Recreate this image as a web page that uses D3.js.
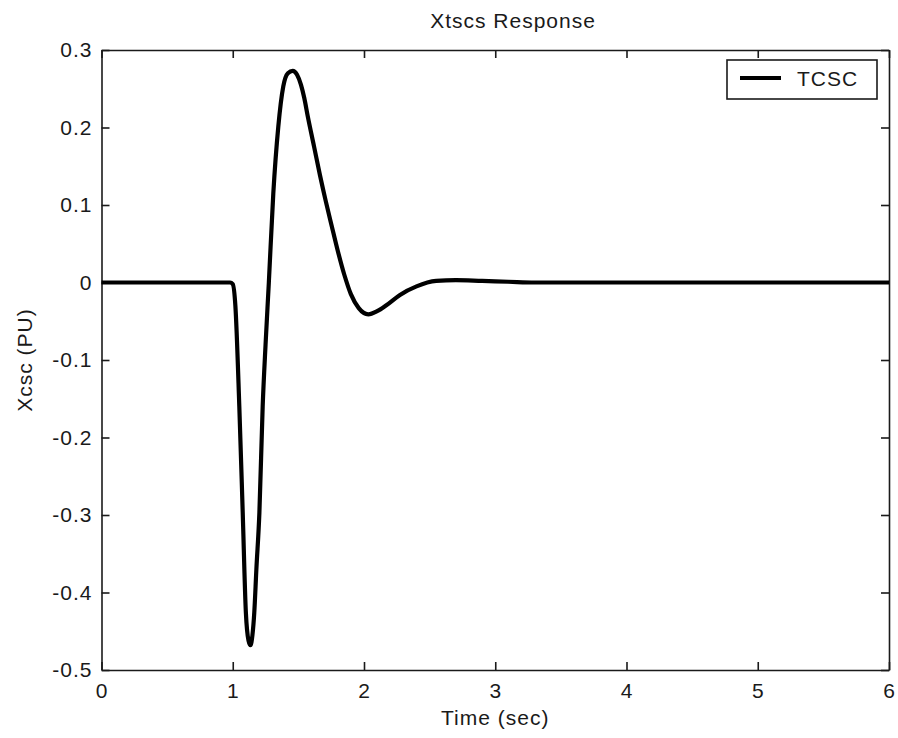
<!DOCTYPE html>
<html>
<head>
<meta charset="utf-8">
<script src="https://cdn.jsdelivr.net/npm/d3@7"></script>
<style>
  html, body { margin: 0; padding: 0; background: #fff; }
  svg { display: block; }
  text { font-family: "Liberation Sans", Arial, sans-serif; fill: #1a1a1a; letter-spacing: 1px; }
</style>
</head>
<body>
<svg id="chart" width="898" height="738"></svg>
<script>
// ---- data ----
const timeValues = [0, 0.5, 0.98, 1.0, 1.02, 1.05, 1.076, 1.10, 1.12, 1.135, 1.15, 1.164, 1.18, 1.203, 1.228, 1.25, 1.275, 1.309, 1.347, 1.385, 1.42, 1.457, 1.49, 1.52, 1.545, 1.572, 1.62, 1.665, 1.71, 1.754, 1.80, 1.85, 1.90, 1.96, 2.033, 2.10, 2.173, 2.274, 2.40, 2.55, 2.70, 2.90, 3.10, 3.30, 4.0, 5.0, 6.0];
const xcscValues = [0, 0, 0, -0.002, -0.03, -0.16, -0.297, -0.426, -0.462, -0.468, -0.455, -0.426, -0.37, -0.297, -0.16, -0.08, 0.0, 0.115, 0.201, 0.253, 0.270, 0.273, 0.268, 0.255, 0.238, 0.214, 0.175, 0.138, 0.104, 0.073, 0.041, 0.010, -0.015, -0.033, -0.041, -0.037, -0.029, -0.016, -0.005, 0.002, 0.003, 0.002, 0.001, 0, 0, 0, 0];
const xTicks = [0, 1, 2, 3, 4, 5, 6];
const yTicks = [0.3, 0.2, 0.1, 0, -0.1, -0.2, -0.3, -0.4, -0.5];
const seriesName = "TCSC";
const titleText = "Xtscs Response";
const xLabel = "Time (sec)";
const yLabel = "Xcsc (PU)";

// ---- layout ----
const L = 101.5, R = 889, T = 50, B = 670;
const svg = d3.select("#chart");
const x = d3.scaleLinear().domain([0, 6]).range([L, R]);
const y = d3.scaleLinear().domain([-0.5, 0.3]).range([B, T]);
const fs = 21;

const fmtY = d => d === 0 ? "0" : (Math.round(d * 10) / 10).toString();

function styleAxis(g) {
  g.selectAll("path.domain").attr("stroke", "#1a1a1a").attr("stroke-width", 1.6);
  g.selectAll(".tick line").attr("stroke", "#1a1a1a").attr("stroke-width", 1.6);
  g.selectAll(".tick text").attr("font-size", fs).attr("fill", "#1a1a1a")
    .attr("font-family", "'Liberation Sans', Arial, sans-serif");
}

// bottom
svg.append("g").attr("transform", `translate(0,${B})`)
  .call(d3.axisBottom(x).tickValues(xTicks).tickFormat(d3.format("d")).tickSize(-8).tickSizeOuter(0).tickPadding(13))
  .call(styleAxis);
// top
svg.append("g").attr("transform", `translate(0,${T})`)
  .call(d3.axisTop(x).tickValues(xTicks).tickFormat("").tickSize(-8).tickSizeOuter(0))
  .call(styleAxis);
// left
svg.append("g").attr("transform", `translate(${L},0)`)
  .call(d3.axisLeft(y).tickValues(yTicks).tickFormat(fmtY).tickSize(-8).tickSizeOuter(0).tickPadding(9))
  .call(styleAxis);
// right
svg.append("g").attr("transform", `translate(${R},0)`)
  .call(d3.axisRight(y).tickValues(yTicks).tickFormat("").tickSize(-8).tickSizeOuter(0))
  .call(styleAxis);

// line
const data = timeValues.map((t, i) => ({ t, v: xcscValues[i] }));
const line = d3.line().x(d => x(d.t)).y(d => y(d.v)).curve(d3.curveMonotoneX);
svg.append("path").datum(data)
  .attr("fill", "none").attr("stroke", "#000").attr("stroke-width", 4.2)
  .attr("stroke-linejoin", "round").attr("d", line);

// title & labels
svg.append("text").attr("x", 513).attr("y", 28).attr("text-anchor", "middle")
  .attr("font-size", fs).text(titleText);
svg.append("text").attr("x", (L + R) / 2).attr("y", 725).attr("text-anchor", "middle")
  .attr("font-size", fs).text(xLabel);
svg.append("text").attr("transform", `translate(32,${(T + B) / 2}) rotate(-90)`)
  .attr("text-anchor", "middle").attr("font-size", fs).text(yLabel);

// legend
const lg = svg.append("g");
lg.append("rect").attr("x", 727).attr("y", 60).attr("width", 150).attr("height", 39)
  .attr("fill", "#fff").attr("stroke", "#1a1a1a").attr("stroke-width", 1.6);
lg.append("line").attr("x1", 740).attr("x2", 781).attr("y1", 78).attr("y2", 78)
  .attr("stroke", "#000").attr("stroke-width", 4.2);
lg.append("text").attr("x", 797).attr("y", 86).attr("font-size", fs).text(seriesName);
</script>
</body>
</html>
